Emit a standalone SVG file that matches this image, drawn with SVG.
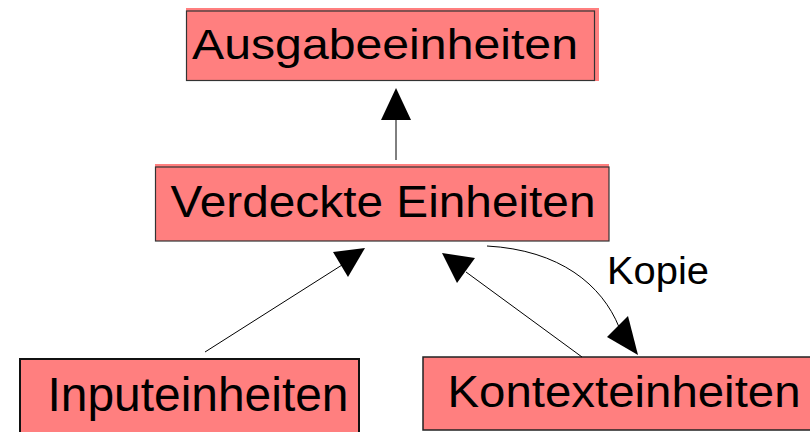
<svg xmlns="http://www.w3.org/2000/svg" width="810" height="432" viewBox="0 0 810 432">
<style>
.fill{fill:#ff7f7f;stroke:none}
.box{fill:#ff7f7f;stroke:#333;stroke-width:1.2}
.lbl{font-family:"Liberation Sans",Arial,sans-serif;fill:#000}
.ln{fill:none;stroke:#000;stroke-width:1}
.hd{fill:#000;stroke:none}
</style>
<rect width="810" height="432" fill="#fff"/>
<g id="ausgabe">
<rect class="fill" x="186" y="8" width="413" height="73"/>
<rect class="box" x="186.5" y="11" width="408" height="69.5"/>
<text class="lbl" x="192" y="58.5" font-size="42" textLength="386" lengthAdjust="spacingAndGlyphs">Ausgabeeinheiten</text>
</g>
<g id="verdeckte">
<rect class="fill" x="155" y="164" width="454" height="77"/>
<rect class="box" x="155.5" y="167" width="453.5" height="74"/>
<text class="lbl" x="170.5" y="217" font-size="45" textLength="425" lengthAdjust="spacingAndGlyphs">Verdeckte Einheiten</text>
</g>
<g id="input">
<rect x="20" y="359" width="339" height="80" fill="#ff7f7f" stroke="#111" stroke-width="2"/>
<text class="lbl" x="47.5" y="411" font-size="48" textLength="301" lengthAdjust="spacingAndGlyphs">Inputeinheiten</text>
</g>
<g id="kontext">
<rect x="423" y="357" width="395" height="73" fill="#ff7f7f" stroke="#222" stroke-width="1.5"/>
<text class="lbl" x="447.5" y="407" font-size="45" textLength="353" lengthAdjust="spacingAndGlyphs">Kontexteinheiten</text>
</g>
<g id="connectors">
<line class="ln" x1="396" y1="160" x2="396" y2="118"/>
<polygon class="hd" points="396,88 411,120 381,120"/>
<line class="ln" x1="205" y1="352" x2="342" y2="265"/>
<polygon class="hd" points="365,248 348,277 333,252"/>
<line class="ln" x1="582" y1="357" x2="466" y2="272"/>
<polygon class="hd" points="442,253 475,258 457,283"/>
<path class="ln" d="M487,246 C560,250 602,285 619,327"/>
<polygon class="hd" points="638,355 607,337 628,316"/>
<text class="lbl" x="607" y="284" font-size="38" textLength="102" lengthAdjust="spacingAndGlyphs">Kopie</text>
</g>
</svg>
